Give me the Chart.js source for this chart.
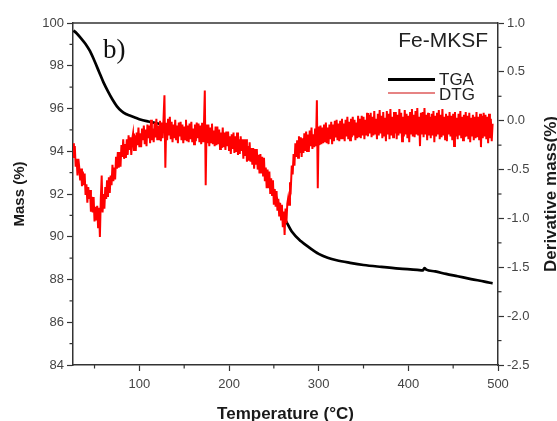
<!DOCTYPE html>
<html>
<head>
<meta charset="utf-8">
<script src="https://cdn.jsdelivr.net/npm/chart.js@4"></script>
<style>
  html,body{margin:0;padding:0;background:#fff;}
  #c{display:block;}
</style>
</head>
<body>
<canvas id="c" width="557" height="421"></canvas>
<script>
// ---- Data ----
const tgaTemp = [26.5,30,35,40,45,50,55,60,65,70,75,80,85,90,95,100,110,118,130,150,175,200,220,235,245,252,258,264,270,280,290,300,310,320,335,350,370,390,410,416,418,420,430,442,455,470,485,494];
const tgaMass = [99.65,99.52,99.28,99.02,98.68,98.22,97.72,97.22,96.80,96.42,96.10,95.88,95.74,95.66,95.58,95.50,95.39,95.32,95.22,95.05,94.80,94.45,93.95,93.30,92.60,91.90,91.20,90.70,90.25,89.80,89.48,89.20,89.02,88.90,88.78,88.68,88.59,88.51,88.45,88.42,88.53,88.46,88.38,88.26,88.15,88.02,87.90,87.82];

const dtgTemp = [
26,27,28,29,30,31,32,33,34,35,
36,37,38,39,40,41,42,43,44,45,
46,47,48,49,50,51,52,53,54,55,
56,57,58,59,60,61,62,63,64,65,
66,67,68,69,70,71,72,73,74,75,
76,77,78,79,80,81,82,83,84,85,
86,87,88,89,90,91,92,93,94,95,
96,97,98,99,100,101,102,103,104,105,
106,107,108,109,110,111,112,113,114,115,
116,117,118,119,120,121,122,123,124,125,
126,127,128,129,130,131,132,133,134,135,
136,137,138,139,140,141,142,143,144,145,
146,147,148,149,150,151,152,153,154,155,
156,157,158,159,160,161,162,163,164,165,
166,167,168,169,170,171,172,173,174,175,
176,177,178,179,180,181,182,183,184,185,
186,187,188,189,190,191,192,193,194,195,
196,197,198,199,200,201,202,203,204,205,
206,207,208,209,210,211,212,213,214,215,
216,217,218,219,220,221,222,223,224,225,
226,227,228,229,230,231,232,233,234,235,
236,237,238,239,240,241,242,243,244,245,
246,247,248,249,250,251,252,253,254,255,
256,257,258,259,260,261,262,263,264,265,
266,267,268,269,270,271,272,273,274,275,
276,277,278,279,280,281,282,283,284,285,
286,287,288,289,290,291,292,293,294,295,
296,297,298,299,300,301,302,303,304,305,
306,307,308,309,310,311,312,313,314,315,
316,317,318,319,320,321,322,323,324,325,
326,327,328,329,330,331,332,333,334,335,
336,337,338,339,340,341,342,343,344,345,
346,347,348,349,350,351,352,353,354,355,
356,357,358,359,360,361,362,363,364,365,
366,367,368,369,370,371,372,373,374,375,
376,377,378,379,380,381,382,383,384,385,
386,387,388,389,390,391,392,393,394,395,
396,397,398,399,400,401,402,403,404,405,
406,407,408,409,410,411,412,413,414,415,
416,417,418,419,420,421,422,423,424,425,
426,427,428,429,430,431,432,433,434,435,
436,437,438,439,440,441,442,443,444,445,
446,447,448,449,450,451,452,453,454,455,
456,457,458,459,460,461,462,463,464,465,
466,467,468,469,470,471,472,473,474,475,
476,477,478,479,480,481,482,483,484,485,
486,487,488,489,490,491,492,493,494];
const dtgValue = [
-0.23,-0.38,-0.26,-0.47,-0.39,-0.56,-0.39,-0.48,-0.61,-0.49,
-0.67,-0.52,-0.66,-0.54,-0.76,-0.65,-0.84,-0.68,-0.80,-0.71,
-0.93,-0.78,-0.94,-0.78,-1.03,-0.88,-1.02,-0.87,-1.10,-0.89,
-1.19,-0.80,-0.56,-0.94,-0.75,-0.90,-0.68,-0.80,-0.61,-0.78,
-0.58,-0.74,-0.56,-0.66,-0.45,-0.62,-0.48,-0.60,-0.37,-0.49,
-0.32,-0.48,-0.32,-0.47,-0.25,-0.37,-0.19,-0.39,-0.24,-0.38,
-0.19,-0.35,-0.15,-0.30,-0.17,-0.35,-0.19,-0.13,-0.31,-0.15,
-0.31,-0.12,-0.25,-0.07,-0.27,-0.13,-0.27,-0.08,-0.20,-0.05,
-0.24,-0.09,-0.26,-0.04,-0.18,-0.05,-0.23,0.01,-0.20,-0.08,
-0.22,-0.02,-0.17,0.02,-0.20,-0.05,-0.19,0.00,-0.21,-0.02,
-0.18,0.03,0.26,-0.48,-0.02,-0.20,0.02,-0.15,0.04,-0.19,
-0.01,-0.22,-0.04,-0.18,0.01,-0.20,-0.05,-0.23,-0.02,-0.16,
-0.01,-0.20,-0.04,-0.23,-0.06,-0.19,0.01,-0.21,-0.05,-0.22,
-0.03,-0.19,-0.01,-0.22,-0.08,-0.24,-0.04,-0.21,-0.02,-0.18,
-0.03,-0.22,-0.05,-0.24,-0.02,-0.21,-0.06,0.31,-0.66,-0.04,
-0.23,-0.04,-0.26,-0.07,-0.22,-0.03,-0.24,-0.10,-0.26,-0.06,
-0.25,-0.06,-0.24,-0.09,-0.29,-0.12,-0.28,-0.07,-0.27,-0.12,
-0.30,-0.11,-0.26,-0.11,-0.30,-0.16,-0.34,-0.14,-0.29,-0.12,
-0.33,-0.16,-0.32,-0.12,-0.35,-0.19,-0.34,-0.16,-0.31,-0.19,
-0.39,-0.19,-0.36,-0.19,-0.42,-0.26,-0.41,-0.22,-0.42,-0.28,
-0.45,-0.28,-0.49,-0.29,-0.45,-0.29,-0.50,-0.35,-0.54,-0.34,
-0.54,-0.37,-0.56,-0.38,-0.62,-0.48,-0.69,-0.50,-0.69,-0.52,
-0.75,-0.59,-0.76,-0.61,-0.86,-0.70,-0.88,-0.72,-0.92,-0.80,
-0.98,-0.84,-1.01,-0.86,-1.09,-0.93,-1.17,-0.90,-1.05,-0.85,
-0.79,-0.86,-0.63,-0.68,-0.46,-0.55,-0.34,-0.46,-0.23,-0.37,
-0.20,-0.38,-0.16,-0.33,-0.17,-0.37,-0.18,-0.33,-0.13,-0.31,
-0.11,-0.31,-0.14,-0.32,-0.10,-0.26,-0.07,-0.29,-0.14,-0.27,
-0.08,-0.26,0.21,-0.69,-0.06,-0.25,-0.05,-0.24,-0.07,-0.23,
-0.04,-0.22,-0.02,-0.23,-0.07,-0.24,-0.04,-0.19,-0.01,-0.24,
-0.04,-0.21,0.00,-0.17,0.01,-0.20,-0.03,-0.21,0.00,-0.18,
0.02,-0.19,-0.03,-0.21,0.01,-0.16,0.04,-0.19,-0.01,-0.20,
0.02,-0.17,0.04,-0.15,0.01,-0.20,-0.02,-0.18,0.05,-0.16,
0.02,-0.18,0.05,-0.15,0.04,-0.19,0.01,-0.15,0.08,-0.16,
0.06,-0.13,0.08,-0.17,0.04,-0.15,0.10,-0.14,0.02,-0.19,
0.07,-0.15,0.11,-0.13,0.05,-0.18,0.09,-0.16,0.03,-0.21,
0.10,-0.14,0.07,-0.19,0.12,-0.15,0.04,-0.17,0.09,-0.13,
0.09,-0.19,0.06,-0.15,0.12,-0.13,0.08,-0.21,0.04,-0.16,
0.11,-0.14,0.07,-0.18,0.05,-0.22,0.09,-0.13,0.12,-0.16,
0.06,-0.17,0.10,-0.14,0.13,-0.15,0.04,-0.26,0.08,-0.14,
0.09,-0.17,0.13,-0.14,0.06,-0.20,0.08,-0.15,0.04,-0.18,
0.07,-0.15,0.10,-0.22,0.05,-0.16,0.08,-0.14,0.11,-0.19,
0.06,-0.17,0.12,-0.15,0.04,-0.19,0.07,-0.21,0.05,-0.14,
0.09,-0.16,0.05,-0.20,0.07,-0.26,0.09,-0.16,0.03,-0.19,
0.07,-0.15,0.10,-0.18,0.04,-0.20,0.06,-0.17,0.09,-0.16,
0.05,-0.19,0.08,-0.22,0.03,-0.16,0.06,-0.20,0.04,-0.18,
0.09,-0.17,0.04,-0.20,0.07,-0.27,0.05,-0.18,0.08,-0.16,
0.06,-0.19,0.04,-0.23,0.07,-0.18,0.02,-0.21,-0.03];

const xTicks = [100,200,300,400,500];
const xMinor = [50,150,250,350,450];
const yMinor = [85,87,89,91,93,95,97,99];
const y1Minor = [-2.25,-1.75,-1.25,-0.75,-0.25,0.25,0.75];
const sampleName = 'Fe-MKSF';
const panelLabel = 'b)';
const seriesNames = ['TGA','DTG'];
const xTitle = 'Temperature (°C)';
const yTitle = 'Mass (%)';
const y1Title = 'Derivative mass(%)';

const SANS = "'Liberation Sans', Arial, sans-serif";
const AXIS = '#333';
const LABEL = '#444';

const decor = {
  id: 'decor',
  afterDraw(chart) {
    const {ctx, chartArea: a, scales} = chart;
    ctx.save();
    ctx.strokeStyle = AXIS;
    ctx.lineWidth = 1.5;
    ctx.beginPath(); ctx.moveTo(a.left, a.top); ctx.lineTo(a.right, a.top); ctx.stroke();
    ctx.lineWidth = 1.2;
    const seg = (x1,y1,x2,y2)=>{ctx.beginPath();ctx.moveTo(x1,y1);ctx.lineTo(x2,y2);ctx.stroke();};
    xMinor.forEach(v=>{const x=scales.x.getPixelForValue(v); seg(x,a.bottom,x,a.bottom+3.5);});
    yMinor.forEach(v=>{const y=scales.y.getPixelForValue(v); seg(a.left,y,a.left-3.5,y);});
    y1Minor.forEach(v=>{const y=scales.y1.getPixelForValue(v); seg(a.right,y,a.right+3.5,y);});

    // axis titles
    ctx.fillStyle = '#1a1a1a';
    ctx.textAlign = 'center';
    ctx.textBaseline = 'middle';
    ctx.font = 'bold 15px ' + SANS;
    ctx.save(); ctx.translate(20, (a.top+a.bottom)/2); ctx.rotate(-Math.PI/2); ctx.fillText(yTitle,0,0); ctx.restore();
    ctx.font = 'bold 17px ' + SANS;
    ctx.save(); ctx.translate(551, (a.top+a.bottom)/2); ctx.rotate(-Math.PI/2); ctx.fillText(y1Title,0,0); ctx.restore();
    ctx.textBaseline = 'alphabetic';
    ctx.fillText(xTitle, (a.left+a.right)/2, 419);

    // panel label
    ctx.font = '27px "Liberation Serif", "Times New Roman", serif';
    ctx.textAlign = 'left';
    ctx.fillStyle = '#111';
    ctx.fillText(panelLabel, 103, 58);

    // legend
    ctx.font = '21px ' + SANS;
    ctx.textAlign = 'right';
    ctx.fillStyle = '#222';
    ctx.fillText(sampleName, 488, 47);
    ctx.textAlign = 'left';
    ctx.font = '17px ' + SANS;
    ctx.strokeStyle = '#000'; ctx.lineWidth = 3;
    seg(388, 79.5, 435, 79.5);
    ctx.fillText(seriesNames[0], 439, 85);
    ctx.strokeStyle = 'rgba(215,60,60,0.85)'; ctx.lineWidth = 1.5;
    seg(388, 93, 435, 93);
    ctx.fillText(seriesNames[1], 439, 100);
    ctx.restore();
  }
};

const tgaPts = tgaTemp.map((t,i)=>({x:t, y:tgaMass[i]}));
const dtgPts = dtgTemp.map((t,i)=>({x:t, y:dtgValue[i]}));

new Chart(document.getElementById('c'), {
  type: 'line',
  data: {
    datasets: [
      { label: seriesNames[1], data: dtgPts, yAxisID: 'y1', order: 1, borderColor: 'rgb(255,0,0)', borderWidth: 2.0, pointRadius: 0, tension: 0, fill: false },
      { label: seriesNames[0], data: tgaPts, yAxisID: 'y', order: 2, borderColor: '#000', borderWidth: 2.7, pointRadius: 0, cubicInterpolationMode: 'monotone', fill: false }
    ]
  },
  options: {
    responsive: false,
    animation: false,
    devicePixelRatio: 1,
    layout: { padding: { top: 23, left: 0, right: 0, bottom: 0 } },
    plugins: { legend: { display: false }, tooltip: { enabled: false } },
    scales: {
      x: {
        type: 'linear', position: 'bottom', min: 26, max: 500,
        afterBuildTicks: s => { s.ticks = xTicks.map(v=>({value:v})); },
        afterFit: s => { s.height = 56; },
        grid: { drawOnChartArea: false, tickLength: 6, tickColor: AXIS, tickWidth: 1.2 },
        border: { display: true, color: AXIS, width: 1.5 },
        ticks: { color: LABEL, font: { family: SANS, size: 13 }, padding: 6, maxRotation: 0 }
      },
      y: {
        type: 'linear', position: 'left', min: 84, max: 100,
        afterFit: s => { s.width = 73; },
        grid: { drawOnChartArea: false, tickLength: 6, tickColor: AXIS, tickWidth: 1.2 },
        border: { display: true, color: AXIS, width: 1.5 },
        ticks: { stepSize: 2, color: LABEL, font: { family: SANS, size: 13 }, padding: 3 }
      },
      y1: {
        type: 'linear', position: 'right', min: -2.5, max: 1.0,
        afterFit: s => { s.width = 59; },
        grid: { drawOnChartArea: false, tickLength: 6, tickColor: AXIS, tickWidth: 1.2 },
        border: { display: true, color: AXIS, width: 1.5 },
        ticks: { stepSize: 0.5, color: LABEL, font: { family: SANS, size: 13 }, padding: 3,
                 callback: v => Number(v).toFixed(1) }
      }
    }
  },
  plugins: [decor]
});
</script>
</body>
</html>
